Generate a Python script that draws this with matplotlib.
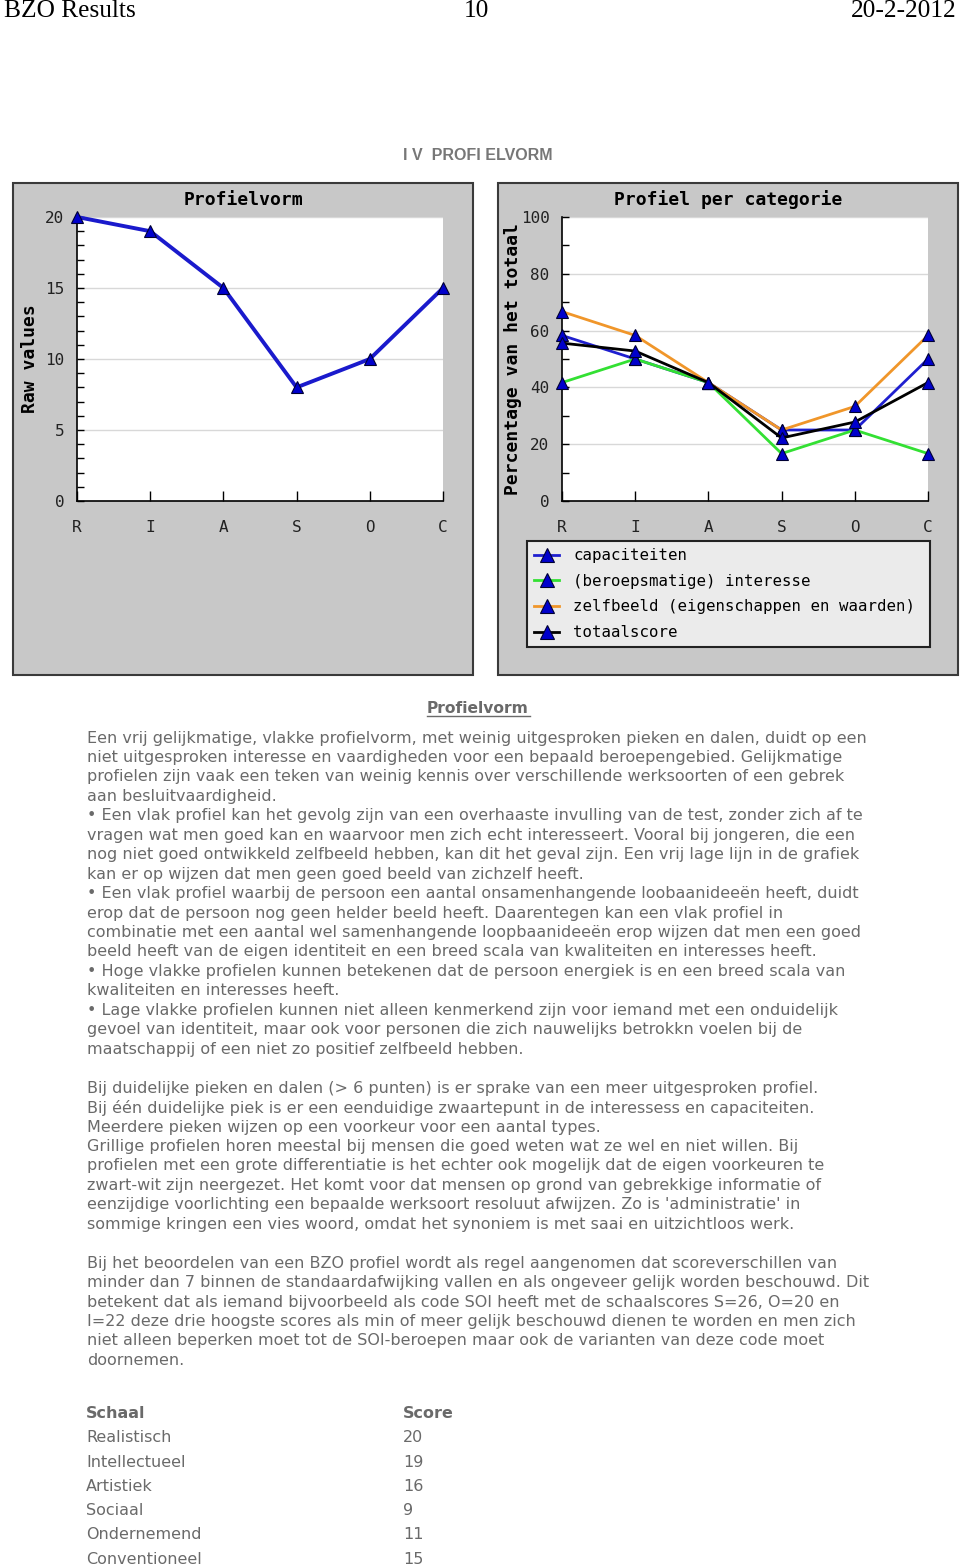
import matplotlib
matplotlib.use("Agg")
import matplotlib.pyplot as plt
from matplotlib.patches import Rectangle
from matplotlib.ticker import MultipleLocator

W, H = 960, 1566

# chart data
categories = ["R", "I", "A", "S", "O", "C"]
raw_values = [20, 19, 15, 8, 10, 15]

series_names = [
    "capaciteiten",
    "(beroepsmatige) interesse",
    "zelfbeeld (eigenschappen en waarden)",
    "totaalscore",
]
capaciteiten = [58.3, 50.0, 41.7, 25.0, 25.0, 50.0]
interesse = [41.7, 50.0, 41.7, 16.7, 25.0, 16.7]
zelfbeeld = [66.7, 58.3, 41.7, 25.0, 33.3, 58.3]
totaalscore = [55.6, 52.8, 41.7, 22.2, 27.8, 41.7]
series_colors = ["#1f1fcf", "#33e033", "#f0962a", "#000000"]

# table data
schaal = ["Realistisch", "Intellectueel", "Artistiek", "Sociaal", "Ondernemend", "Conventioneel"]
scores = [20, 19, 16, 9, 11, 15]

body_lines = [
    "Een vrij gelijkmatige, vlakke profielvorm, met weinig uitgesproken pieken en dalen, duidt op een",
    "niet uitgesproken interesse en vaardigheden voor een bepaald beroepengebied. Gelijkmatige",
    "profielen zijn vaak een teken van weinig kennis over verschillende werksoorten of een gebrek",
    "aan besluitvaardigheid.",
    "\u2022 Een vlak profiel kan het gevolg zijn van een overhaaste invulling van de test, zonder zich af te",
    "vragen wat men goed kan en waarvoor men zich echt interesseert. Vooral bij jongeren, die een",
    "nog niet goed ontwikkeld zelfbeeld hebben, kan dit het geval zijn. Een vrij lage lijn in de grafiek",
    "kan er op wijzen dat men geen goed beeld van zichzelf heeft.",
    "\u2022 Een vlak profiel waarbij de persoon een aantal onsamenhangende loobaanideeën heeft, duidt",
    "erop dat de persoon nog geen helder beeld heeft. Daarentegen kan een vlak profiel in",
    "combinatie met een aantal wel samenhangende loopbaanideeën erop wijzen dat men een goed",
    "beeld heeft van de eigen identiteit en een breed scala van kwaliteiten en interesses heeft.",
    "\u2022 Hoge vlakke profielen kunnen betekenen dat de persoon energiek is en een breed scala van",
    "kwaliteiten en interesses heeft.",
    "\u2022 Lage vlakke profielen kunnen niet alleen kenmerkend zijn voor iemand met een onduidelijk",
    "gevoel van identiteit, maar ook voor personen die zich nauwelijks betrokkn voelen bij de",
    "maatschappij of een niet zo positief zelfbeeld hebben.",
    "",
    "Bij duidelijke pieken en dalen (> 6 punten) is er sprake van een meer uitgesproken profiel.",
    "Bij één duidelijke piek is er een eenduidige zwaartepunt in de interessess en capaciteiten.",
    "Meerdere pieken wijzen op een voorkeur voor een aantal types.",
    "Grillige profielen horen meestal bij mensen die goed weten wat ze wel en niet willen. Bij",
    "profielen met een grote differentiatie is het echter ook mogelijk dat de eigen voorkeuren te",
    "zwart-wit zijn neergezet. Het komt voor dat mensen op grond van gebrekkige informatie of",
    "eenzijdige voorlichting een bepaalde werksoort resoluut afwijzen. Zo is 'administratie' in",
    "sommige kringen een vies woord, omdat het synoniem is met saai en uitzichtloos werk.",
    "",
    "Bij het beoordelen van een BZO profiel wordt als regel aangenomen dat scoreverschillen van",
    "minder dan 7 binnen de standaardafwijking vallen en als ongeveer gelijk worden beschouwd. Dit",
    "betekent dat als iemand bijvoorbeeld als code SOI heeft met de schaalscores S=26, O=20 en",
    "I=22 deze drie hoogste scores als min of meer gelijk beschouwd dienen te worden en men zich",
    "niet alleen beperken moet tot de SOI-beroepen maar ook de varianten van deze code moet",
    "doornemen.",
]

MONO = "DejaVu Sans Mono"
BODY = "DejaVu Sans"
GRAY_TXT = "#6a6a6a"
BODY_SIZE = 11.55


def fx(px):
    return px / W


def fy(py):
    return 1 - py / H


def style_axes(ax, ymax, major, minor):
    ax.set_zorder(2)
    ax.set_facecolor("white")
    ax.set_xlim(0, len(categories) - 1)
    ax.set_ylim(0, ymax)
    ax.set_xticks(range(len(categories)))
    ax.set_xticklabels(categories)
    ax.yaxis.set_major_locator(MultipleLocator(major))
    ax.yaxis.set_minor_locator(MultipleLocator(minor))
    ax.grid(axis="y", which="major", color="#d8d8d8", lw=1)
    ax.set_axisbelow(True)
    for s in ("top", "right"):
        ax.spines[s].set_visible(False)
    for s in ("left", "bottom"):
        ax.spines[s].set_color("black")
        ax.spines[s].set_linewidth(1.2)
    ax.tick_params(axis="y", which="both", direction="in", length=5, width=1,
                   labelsize=11.5, pad=9)
    ax.tick_params(axis="x", direction="in", length=7, width=1, labelsize=11.5, pad=14)
    for lab in ax.get_xticklabels() + ax.get_yticklabels():
        lab.set_family(MONO)
        lab.set_color("#222222")


fig = plt.figure(figsize=(W / 100, H / 100), dpi=100)
fig.patch.set_facecolor("white")

# header
fig.text(fx(4), fy(11), "BZO Results", family="Liberation Serif", fontsize=18.3, va="center", ha="left")
fig.text(fx(476), fy(11), "10", family="Liberation Serif", fontsize=18.3, va="center", ha="center")
fig.text(fx(956), fy(11), "20-2-2012", family="Liberation Serif", fontsize=18.3, va="center", ha="right")

fig.text(fx(478), fy(155), "I V  PROFI ELVORM", family="Liberation Sans", fontsize=11.5,
         weight="bold", color="#777777", ha="center", va="center")

# gray chart panels
for x0 in (13, 498):
    fig.patches.append(Rectangle((fx(x0), fy(675)), fx(460), (675 - 183) / H,
                                 transform=fig.transFigure, facecolor="#c8c8c8",
                                 edgecolor="#3a3a3a", lw=1.5, zorder=-1))

ax_w = fx(443 - 77)
ax_h = (501 - 217) / H

# left chart
ax1 = fig.add_axes([fx(77), fy(501), ax_w, ax_h])
style_axes(ax1, 20, 5, 1)
ax1.plot(range(len(categories)), raw_values, color="#1a1acc", lw=2.8,
         marker="^", markersize=8, markerfacecolor="#0000cc", markeredgecolor="#000033",
         markeredgewidth=0.8, clip_on=False, zorder=3)
ax1.set_ylabel("Raw values", family=MONO, weight="bold", fontsize=13)
ax1.yaxis.set_label_coords(-0.105, 0.5)
fig.text(fx(243), fy(200), "Profielvorm", family=MONO, weight="bold", fontsize=13,
         ha="center", va="center")

# right chart
ax2 = fig.add_axes([fx(562), fy(501), ax_w, ax_h])
style_axes(ax2, 100, 20, 10)
for vals, name, col in zip([capaciteiten, interesse, zelfbeeld, totaalscore],
                           series_names, series_colors):
    ax2.plot(range(len(categories)), vals, color=col, lw=2.0, label=name,
             marker="^", markersize=8, markerfacecolor="#0000cc", markeredgecolor="#000033",
             markeredgewidth=0.8, clip_on=False, zorder=3)
ax2.set_ylabel("Percentage van het totaal", family=MONO, weight="bold", fontsize=13)
ax2.yaxis.set_label_coords(-0.108, 0.5)
fig.text(fx(728), fy(200), "Profiel per categorie", family=MONO, weight="bold", fontsize=13,
         ha="center", va="center")

leg = ax2.legend(loc="upper left",
                 bbox_to_anchor=(fx(527), fy(651), fx(930 - 527), (651 - 541) / H),
                 bbox_transform=fig.transFigure, mode="expand", borderaxespad=0,
                 prop={"family": MONO, "size": 11.3}, handlelength=1.6, handletextpad=0.9,
                 labelspacing=0.68, borderpad=0.45, fancybox=False, framealpha=1,
                 markerscale=1.25)
leg.get_frame().set_facecolor("#ebebeb")
leg.get_frame().set_edgecolor("#222222")
leg.get_frame().set_linewidth(1.5)

# text section
fig.text(fx(478), fy(708), "Profielvorm", family=BODY, fontsize=11.2, weight="bold",
         color=GRAY_TXT, ha="center", va="center")
fig.lines.append(plt.Line2D([fx(427), fx(530)], [fy(716), fy(716)], transform=fig.transFigure,
                            color=GRAY_TXT, lw=1))

y = 738
for line in body_lines:
    if line:
        fig.text(fx(87), fy(y), line, family=BODY, fontsize=BODY_SIZE, color=GRAY_TXT,
                 ha="left", va="center")
    y += 19.45

# table
fig.text(fx(86), fy(1413), "Schaal", family=BODY, fontsize=BODY_SIZE, weight="bold",
         color=GRAY_TXT, ha="left", va="center")
fig.text(fx(403), fy(1413), "Score", family=BODY, fontsize=BODY_SIZE, weight="bold",
         color=GRAY_TXT, ha="left", va="center")
for i, (name, sc) in enumerate(zip(schaal, scores)):
    yy = 1438 + i * 24.2
    fig.text(fx(86), fy(yy), name, family=BODY, fontsize=BODY_SIZE, color=GRAY_TXT,
             ha="left", va="center")
    fig.text(fx(403), fy(yy), str(sc), family=BODY, fontsize=BODY_SIZE, color=GRAY_TXT,
             ha="left", va="center")

fig.savefig("out.png", dpi=100)
